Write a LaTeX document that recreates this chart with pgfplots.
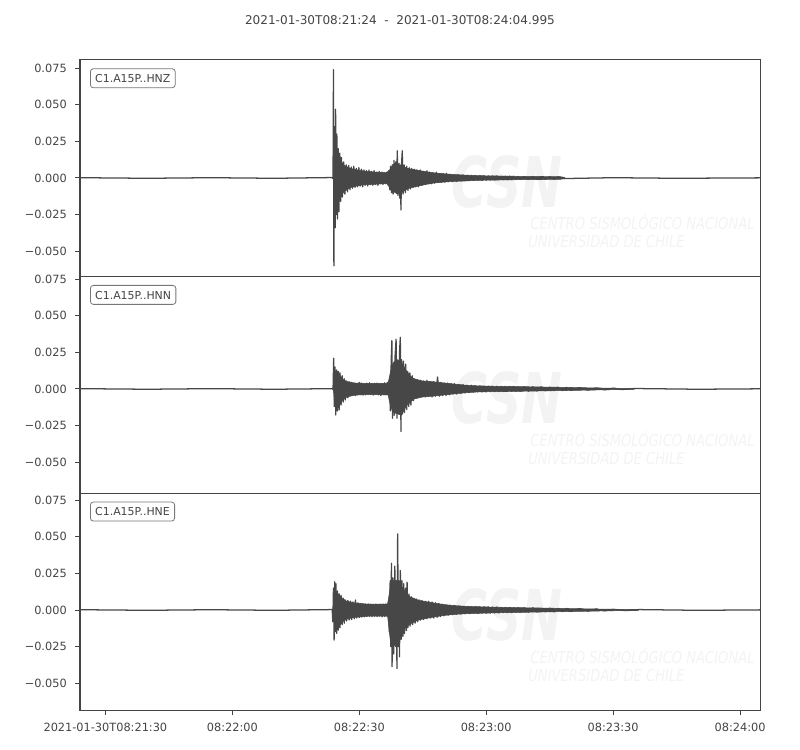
\documentclass[border=0pt]{standalone}
\usepackage{fontspec}
\setmainfont{DejaVu Sans}
\usepackage{graphicx}
\usepackage{pgfplots}
\pgfplotsset{compat=1.18}
\definecolor{fg}{HTML}{444444}
\definecolor{tr}{HTML}{474747}
\definecolor{boxc}{HTML}{777777}
\definecolor{wm}{HTML}{F3F3F3}
\pgfplotsset{
  trace/.style={
    scale only axis, width=510pt, height=162.5pt,
    xmin=24, xmax=184.7,
    scaled y ticks=false, scaled x ticks=false,
    axis line style={draw=fg, line width=0.75pt},
    tick style={draw=fg, line width=0.75pt},
    major tick length=3.75pt, tick align=outside,
    ytick={-0.05,-0.025,0,0.025,0.05,0.075},
    yticklabels={−0.050,−0.025,0.000,0.025,0.050,0.075},
    ytick pos=left, xtick pos=bottom,
    tick label style={font=\fontsize{8.5}{10}\selectfont, text=fg},
    yticklabel style={anchor=east, inner xsep=0pt, xshift=-6pt},
    xticklabel style={anchor=north, inner ysep=0pt, yshift=-5.5pt},
    clip=true,
  },
  wave/.style={draw=tr, line width=0.95pt, line join=round, mark=none},
  band/.style={fill=tr, draw=tr, line width=0.4pt, line join=round, mark=none},
}
\newcommand{\wmark}{%
  \node[anchor=center, text=wm, inner sep=0pt] at (rel axis cs:0.628,0.438)
    {\scalebox{1.05}[1.5]{\fontsize{35}{35}\selectfont\bfseries\itshape CSN}};
  \node[anchor=west, text=wm, inner sep=0pt] at (rel axis cs:0.662,0.250)
    {\scalebox{0.8}[1]{\fontsize{12.3}{12}\selectfont\itshape CENTRO SISMOLÓGICO NACIONAL}};
  \node[anchor=west, text=wm, inner sep=0pt] at (rel axis cs:0.659,0.160)
    {\scalebox{0.8}[1]{\fontsize{12.3}{12}\selectfont\itshape UNIVERSIDAD DE CHILE}};
}
\newcommand{\chlabel}[1]{%
  \node[draw=boxc, line width=0.6pt, rounded corners=2.2pt, fill=white, anchor=north west,
        inner xsep=3.6pt, inner ysep=0pt, minimum height=14.25pt, text height=6.3pt, text depth=0pt,
        font=\fontsize{8.2}{10}\selectfont, text=fg]
    at ([xshift=7.5pt,yshift=-6.25pt]rel axis cs:0,1) {#1};
}
\begin{document}
\begin{tikzpicture}
\useasboundingbox (0,0) rectangle (600pt,562.5pt);
\node[font=\fontsize{9.05}{11}\selectfont, text=fg] at (300pt,547.5pt)
  {2021-01-30T08:21:24\ \ -\ \ 2021-01-30T08:24:04.995};

% ---------------- HNZ
\begin{axis}[trace, at={(60pt,517.5pt)}, anchor=north west,
  ymin=-0.0674, ymax=0.0806, xtick=\empty]
\wmark
% envelope band (upper forward, lower backward)
\addplot[band] table {
t y
83.9 0.0000
84.5 0.0150
85.5 0.0120
86.5 0.0085
88.0 0.0065
90.0 0.0052
92.0 0.0045
94.0 0.0040
96.5 0.0036
97.3 0.0060
98.0 0.0090
99.0 0.0090
100.0 0.0090
101.0 0.0070
102.0 0.0062
104.0 0.0052
106.0 0.0042
108.0 0.0034
110.0 0.0029
112.0 0.0024
115.0 0.0020
118.0 0.0016
122.0 0.0014
126.0 0.0012
130.0 0.0011
134.0 0.0010
137.5 0.0009
138.5 0.0004
138.5 -0.0004
137.5 -0.0009
134.0 -0.0010
130.0 -0.0011
126.0 -0.0012
122.0 -0.0014
118.0 -0.0016
115.0 -0.0020
112.0 -0.0024
110.0 -0.0028
108.0 -0.0033
106.0 -0.0042
104.0 -0.0055
102.0 -0.0068
101.0 -0.0080
100.0 -0.0100
99.0 -0.0110
98.0 -0.0090
97.3 -0.0070
96.5 -0.0038
94.0 -0.0042
92.0 -0.0045
90.0 -0.0050
88.0 -0.0065
86.5 -0.0090
85.5 -0.0130
84.5 -0.0160
83.9 0.0000
};
\addplot[wave] table {
t y
24 0.0002
40 -0.0002
55 0.0002
70 -0.0002
83.5 0.0003
83.8 -0.0004
83.9 0.0740
84.0 -0.0600
84.15 0.0350
84.3 -0.0340
84.4 0.0470
84.55 -0.0250
84.7 0.0300
84.85 -0.0280
85.0 0.0200
85.2 -0.0230
85.4 0.0170
85.6 -0.0160
85.8 0.0140
86.0 -0.0130
86.3 0.0110
86.6 -0.0110
86.9 0.0090
87.2 -0.0095
87.5 0.0085
87.8 -0.0080
88.1 0.0075
88.4 -0.0070
88.7 0.0080
89.0 -0.0065
89.3 0.0065
89.6 -0.0060
89.9 0.0070
90.2 -0.0055
90.5 0.0060
90.8 -0.0060
91.1 0.0055
91.4 -0.0050
91.7 0.0050
92.0 -0.0055
92.3 0.0055
92.6 -0.0045
92.9 0.0045
93.2 -0.0050
93.5 0.0050
93.8 -0.0045
94.1 0.0040
94.4 -0.0050
94.7 0.0045
95.0 -0.0040
95.3 0.0040
95.6 -0.0045
95.9 0.0035
96.2 -0.0040
96.5 0.0040
96.8 -0.0045
97.0 0.0050
97.2 -0.0080
97.4 0.0080
97.6 -0.0100
97.8 0.0090
98.0 -0.0110
98.2 0.0120
98.4 -0.0090
98.6 0.0110
98.8 -0.0100
98.98 0.0186
99.15 -0.0120
99.4 0.0100
99.6 -0.0140
99.7 0.0080
99.85 -0.0218
100.0 0.0100
100.16 0.0186
100.35 -0.0110
100.6 0.0090
100.9 -0.0100
101.2 0.0080
101.5 -0.0085
101.8 0.0070
102.1 -0.0075
102.4 0.0065
102.7 -0.0065
103.0 0.0060
103.3 -0.0060
103.6 0.0055
104.0 -0.0060
104.4 0.0055
104.8 -0.0050
105.2 0.0045
105.6 -0.0045
106.0 0.0050
106.3 -0.0040
106.6 0.0040
107.0 -0.0040
107.4 0.0035
107.8 -0.0035
108.2 0.0040
108.6 -0.0030
109.0 0.0030
109.4 -0.0030
109.8 0.0030
110.2 -0.0028
110.6 0.0032
111.0 -0.0025
111.5 0.0025
112.0 -0.0025
112.5 0.0022
113.0 -0.0022
113.5 0.0022
114.0 -0.0020
114.5 0.0020
115.0 -0.0020
115.5 0.0018
116.0 -0.0018
116.5 0.0018
117.0 -0.0016
117.5 0.0016
118.0 -0.0016
118.5 0.0015
119.0 -0.0015
119.5 0.0015
120.0 -0.0015
120.5 0.0014
121.0 -0.0014
121.5 0.0014
122.0 -0.0013
122.5 0.0013
123.0 -0.0013
123.5 0.0012
124.0 -0.0012
124.5 0.0012
125.0 -0.0012
125.5 0.0012
126.0 -0.0011
126.5 0.0011
127.0 -0.0011
127.5 0.0011
128.0 -0.0010
129.0 0.0010
130.0 -0.0010
131.0 0.0010
132.0 -0.0010
133.0 0.0009
134.0 -0.0009
135.0 0.0009
136.0 -0.0008
137.0 0.0008
138.0 -0.0004
150 0.0002
165 -0.0002
184.995 0.0001
};
\chlabel{C1.A15P..HNZ}
\end{axis}

% ---------------- HNN
\begin{axis}[trace, at={(60pt,355pt)}, anchor=north west,
  ymin=-0.0713, ymax=0.0767, xtick=\empty]
\wmark
\addplot[band] table {
t y
83.9 0.0000
84.2 0.0120
85.0 0.0110
86.0 0.0070
87.0 0.0050
89.0 0.0040
92.0 0.0038
96.8 0.0038
97.4 0.0120
98.0 0.0180
99.0 0.0200
100.0 0.0180
101.0 0.0130
102.0 0.0090
103.0 0.0068
105.0 0.0054
107.0 0.0050
109.0 0.0044
111.0 0.0038
113.0 0.0032
115.0 0.0026
118.0 0.0021
122.0 0.0018
126.0 0.0017
130.0 0.0015
134.0 0.0013
138.0 0.0011
142.0 0.0009
146.0 0.0007
150.0 0.0005
155.0 0.0003
155.0 -0.0003
150.0 -0.0005
146.0 -0.0007
142.0 -0.0009
138.0 -0.0011
134.0 -0.0013
130.0 -0.0015
126.0 -0.0017
122.0 -0.0018
118.0 -0.0020
115.0 -0.0026
113.0 -0.0032
111.0 -0.0038
109.0 -0.0044
107.0 -0.0050
105.0 -0.0054
103.0 -0.0068
102.0 -0.0090
101.0 -0.0120
100.0 -0.0180
99.0 -0.0170
98.0 -0.0160
97.4 -0.0120
96.8 -0.0040
92.0 -0.0038
89.0 -0.0042
87.0 -0.0055
86.0 -0.0080
85.0 -0.0130
84.2 -0.0120
83.9 0.0000
};
\addplot[wave] table {
t y
24 0.0002
40 -0.0002
55 0.0002
70 -0.0002
83.6 0.0002
83.8 -0.0003
83.95 0.0210
84.1 -0.0120
84.25 0.0150
84.45 -0.0178
84.65 0.0130
84.85 -0.0150
85.05 0.0120
85.25 -0.0143
85.45 0.0110
85.7 -0.0110
85.95 0.0090
86.2 -0.0090
86.45 0.0070
86.7 -0.0075
87.0 0.0055
87.3 -0.0060
87.6 0.0050
87.9 -0.0045
88.2 0.0045
88.5 -0.0042
88.8 0.0040
89.1 -0.0045
89.4 0.0038
89.7 -0.0040
90.0 0.0045
90.3 -0.0038
90.6 0.0040
90.9 -0.0042
91.2 0.0035
91.5 -0.0040
91.8 0.0040
92.1 -0.0035
92.4 0.0042
92.7 -0.0038
93.0 0.0035
93.3 -0.0042
93.6 0.0038
93.9 -0.0035
94.2 0.0040
94.5 -0.0040
94.8 0.0036
95.1 -0.0045
95.4 0.0038
95.7 -0.0038
96.0 0.0042
96.3 -0.0040
96.6 0.0045
96.9 -0.0042
97.15 0.0060
97.35 -0.0150
97.55 0.0200
97.7 0.0330
97.85 -0.0200
98.05 0.0150
98.25 -0.0180
98.45 0.0220
98.7 0.0340
98.9 -0.0200
99.1 0.0180
99.3 -0.0160
99.5 0.0250
99.7 0.0353
99.85 -0.0290
100.0 0.0200
100.2 -0.0170
100.45 0.0190
100.7 -0.0160
100.95 0.0170
101.2 -0.0140
101.45 0.0120
101.7 -0.0120
101.95 0.0110
102.2 -0.0110
102.5 0.0090
102.8 -0.0080
103.1 0.0070
103.4 -0.0065
103.7 0.0065
104.0 -0.0060
104.4 0.0060
104.8 -0.0055
105.2 0.0055
105.6 -0.0055
106.0 0.0060
106.4 -0.0050
106.8 0.0050
107.2 -0.0055
107.6 0.0050
108.0 -0.0050
108.5 0.0082
108.9 -0.0050
109.3 0.0045
109.7 -0.0045
110.1 0.0040
110.5 -0.0045
110.9 0.0040
111.3 -0.0040
111.7 0.0035
112.1 -0.0035
112.5 0.0035
113.0 -0.0035
113.5 0.0030
114.0 -0.0030
114.5 0.0030
115.0 -0.0028
115.5 0.0025
116.0 -0.0025
116.5 0.0025
117.0 -0.0022
117.5 0.0022
118.0 -0.0020
118.5 0.0020
119.0 -0.0020
119.5 0.0020
120.0 -0.0020
120.5 0.0019
121.0 -0.0019
121.5 0.0018
122.0 -0.0018
122.5 0.0018
123.0 -0.0018
123.5 0.0018
124.0 -0.0018
124.5 0.0017
125.0 -0.0017
125.5 0.0017
126.0 -0.0017
126.5 0.0016
127.0 -0.0016
127.5 0.0016
128.0 -0.0016
129.0 0.0015
130.0 -0.0015
131.0 0.0015
132.0 -0.0014
133.0 0.0014
134.0 -0.0013
135.0 0.0013
136.0 -0.0012
137.0 0.0012
138.0 -0.0011
139.0 0.0011
140.0 -0.0010
142.0 0.0009
144.0 -0.0008
146.0 0.0007
148.0 -0.0006
150.0 0.0005
152.0 -0.0004
155.0 0.0003
170 -0.0002
184.995 0.0001
};
\chlabel{C1.A15P..HNN}
\end{axis}

% ---------------- HNE
\begin{axis}[trace, at={(60pt,192.5pt)}, anchor=north west,
  ymin=-0.0683, ymax=0.0797,
  xtick={30,60,90,120,150,180},
  xticklabels={2021-01-30T08:21:30,08:22:00,08:22:30,08:23:00,08:23:30,08:24:00}]
\wmark
\addplot[band] table {
t y
83.8 0.0000
84.3 0.0140
85.0 0.0110
86.0 0.0080
87.0 0.0060
89.0 0.0048
92.0 0.0040
96.7 0.0040
97.3 0.0150
98.0 0.0200
99.0 0.0200
100.0 0.0160
101.0 0.0120
102.0 0.0090
104.0 0.0066
106.0 0.0056
108.0 0.0046
110.0 0.0037
113.0 0.0029
116.0 0.0024
120.0 0.0021
124.0 0.0018
128.0 0.0016
132.0 0.0014
136.0 0.0012
140.0 0.0010
146.0 0.0007
150.0 0.0005
156.0 0.0003
156.0 -0.0003
150.0 -0.0005
146.0 -0.0007
140.0 -0.0010
136.0 -0.0012
132.0 -0.0014
128.0 -0.0016
124.0 -0.0018
120.0 -0.0021
116.0 -0.0024
113.0 -0.0029
110.0 -0.0037
108.0 -0.0046
106.0 -0.0056
104.0 -0.0068
102.0 -0.0095
101.0 -0.0120
100.0 -0.0160
99.0 -0.0220
98.0 -0.0250
97.3 -0.0200
96.7 -0.0042
92.0 -0.0042
89.0 -0.0050
87.0 -0.0062
86.0 -0.0082
85.0 -0.0120
84.3 -0.0150
83.8 0.0000
};
\addplot[wave] table {
t y
24 0.0002
40 -0.0002
55 0.0002
70 -0.0002
83.6 0.0003
83.75 -0.0080
83.9 0.0150
84.05 -0.0205
84.2 0.0193
84.35 -0.0140
84.5 0.0180
84.65 -0.0160
84.85 0.0130
85.05 -0.0137
85.25 0.0110
85.45 -0.0120
85.7 0.0100
85.95 -0.0100
86.2 0.0080
86.45 -0.0090
86.7 0.0068
87.0 -0.0075
87.3 0.0065
87.6 -0.0068
87.9 0.0060
88.2 -0.0065
88.5 0.0055
88.8 -0.0060
89.1 0.0068
89.4 -0.0055
89.7 0.0050
90.0 -0.0050
90.3 0.0045
90.6 -0.0048
90.9 0.0042
91.2 -0.0046
91.5 0.0040
91.8 -0.0045
92.1 0.0042
92.4 -0.0044
92.7 0.0040
93.0 -0.0046
93.3 0.0038
93.6 -0.0042
93.9 0.0040
94.2 -0.0045
94.5 0.0038
94.8 -0.0042
95.1 0.0040
95.4 -0.0046
95.7 0.0040
96.0 -0.0044
96.3 0.0042
96.6 -0.0045
96.9 0.0060
97.1 -0.0150
97.3 0.0200
97.45 -0.0250
97.6 0.0319
97.75 -0.0387
97.95 0.0220
98.15 -0.0300
98.4 0.0300
98.6 -0.0250
98.75 0.0200
98.9 -0.0400
99.07 0.0520
99.25 -0.0250
99.35 0.0200
99.5 -0.0320
99.7 0.0270
99.9 -0.0200
100.1 0.0200
100.3 -0.0180
100.5 0.0180
100.7 -0.0160
100.95 0.0150
101.15 -0.0140
101.3 0.0190
101.5 -0.0120
101.75 0.0110
102.0 -0.0110
102.3 0.0090
102.6 -0.0100
102.9 0.0080
103.2 -0.0090
103.5 0.0075
103.8 -0.0080
104.1 0.0070
104.4 -0.0070
104.8 0.0065
105.2 -0.0065
105.6 0.0060
106.0 -0.0060
106.4 0.0060
106.8 -0.0055
107.2 0.0055
107.6 -0.0055
108.0 0.0050
108.4 -0.0050
108.8 0.0045
109.2 -0.0045
109.6 0.0040
110.0 -0.0040
110.5 0.0035
111.0 -0.0035
111.5 0.0032
112.0 -0.0032
112.5 0.0030
113.0 -0.0030
113.5 0.0028
114.0 -0.0028
114.5 0.0025
115.0 -0.0025
115.5 0.0024
116.0 -0.0024
116.5 0.0023
117.0 -0.0023
117.5 0.0023
118.0 -0.0023
118.5 0.0022
119.0 -0.0022
119.5 0.0022
120.0 -0.0022
120.5 0.0021
121.0 -0.0021
121.5 0.0020
122.0 -0.0020
122.5 0.0020
123.0 -0.0020
123.5 0.0018
124.0 -0.0018
124.5 0.0018
125.0 -0.0018
125.5 0.0017
126.0 -0.0017
126.5 0.0016
127.0 -0.0016
127.5 0.0016
128.0 -0.0016
129.0 0.0015
130.0 -0.0015
131.0 0.0015
132.0 -0.0014
133.0 0.0014
134.0 -0.0013
135.0 0.0013
136.0 -0.0012
137.0 0.0012
138.0 -0.0011
139.0 0.0011
140.0 -0.0010
142.0 0.0009
144.0 -0.0008
146.0 0.0007
148.0 -0.0006
150.0 0.0005
153.0 -0.0004
156.0 0.0003
170 -0.0002
184.995 0.0001
};
\chlabel{C1.A15P..HNE}
\end{axis}
\end{tikzpicture}
\end{document}
